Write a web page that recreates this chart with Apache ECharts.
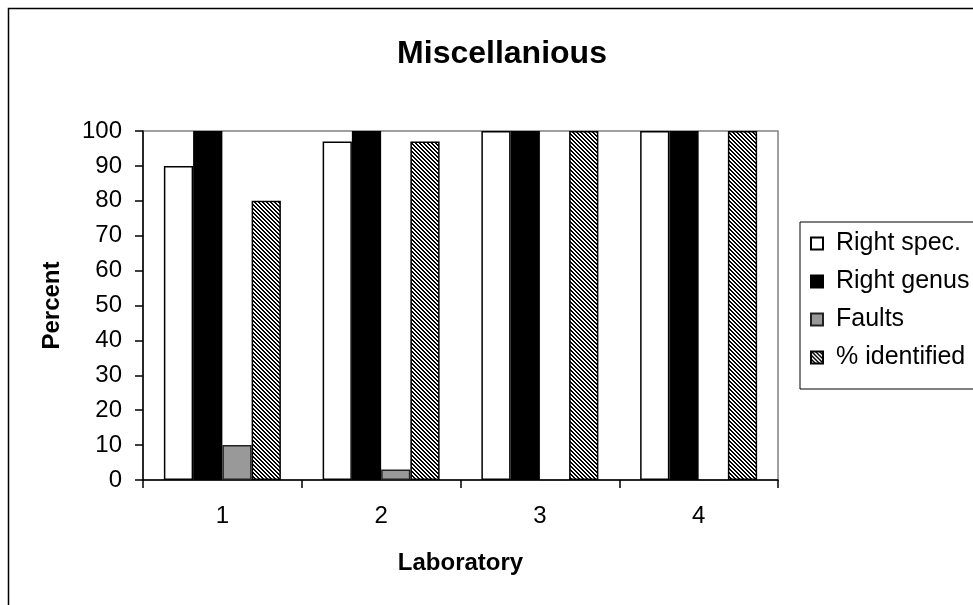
<!DOCTYPE html>
<html>
<head>
<meta charset="utf-8">
<script src="https://cdn.jsdelivr.net/npm/echarts@6/dist/echarts.min.js"></script>
<style>
html,body{margin:0;padding:0;background:#fff;}
#chart{width:973px;height:605px;}
</style>
</head>
<body>
<div id="chart"></div>
<script>
const categories = ['1', '2', '3', '4'];
const rightSpec = [90, 97, 100, 100];
const rightGenus = [100, 100, 100, 100];
const faults = [10, 3, 0, 0];
const identified = [80, 97, 100, 100];
const seriesNames = ['Right spec.', 'Right genus', 'Faults', '% identified'];

function hatch() {
  const c = document.createElement('canvas');
  c.width = 4; c.height = 4;
  const ctx = c.getContext('2d');
  const img = ctx.createImageData(4, 4);
  for (let y = 0; y < 4; y++) {
    for (let x = 0; x < 4; x++) {
      const i = (y * 4 + x) * 4;
      const dark = ((x - y + 8) % 4) < 2;
      const v = dark ? 0 : 255;
      img.data[i] = v; img.data[i+1] = v; img.data[i+2] = v; img.data[i+3] = 255;
    }
  }
  ctx.putImageData(img, 0, 0);
  return c;
}

const font = 'Arial, "Liberation Sans", sans-serif';
const chart = echarts.init(document.getElementById('chart'), null, {renderer: 'canvas'});
const barBase = {type: 'bar', barGap: '0%', barCategoryGap: '26.3%'};
chart.setOption({
  animation: false,
  backgroundColor: '#fff',
  textStyle: {fontFamily: font, color: '#000'},
  title: {
    text: 'Miscellanious', left: 497, top: 33, textAlign: 'center',
    textStyle: {fontFamily: font, fontSize: 32, fontWeight: 'bold', color: '#000'}
  },
  graphic: [{
    type: 'rect', shape: {x: 8.5, y: 8.5, width: 2000, height: 2000},
    style: {fill: 'none', stroke: '#000', lineWidth: 1.5}, silent: true
  }],
  legend: {
    orient: 'vertical', left: 800, top: 222,
    padding: [9, 200, 19, 10],
    itemWidth: 12, itemHeight: 12, itemGap: 13,
    borderColor: '#000', borderWidth: 1,
    textStyle: {fontFamily: font, fontSize: 25, color: '#000', padding: [0, 0, 0, 8]},
    data: seriesNames.map(n => ({name: n, icon: 'rect'}))
  },
  grid: {left: 143, top: 131, width: 635, height: 349, show: true, borderColor: '#808080', borderWidth: 1.5, containLabel: false},
  xAxis: {
    type: 'category', data: categories,
    name: 'Laboratory', nameLocation: 'middle', nameGap: 71,
    nameTextStyle: {fontFamily: font, fontSize: 24, fontWeight: 'bold', color: '#000'},
    axisLine: {lineStyle: {color: '#000', width: 1.5}},
    axisTick: {show: true, alignWithLabel: false, length: 8, lineStyle: {color: '#000', width: 1.5}},
    axisLabel: {fontFamily: font, fontSize: 24, color: '#000', margin: 24},
    splitLine: {show: false}
  },
  yAxis: {
    type: 'value', min: 0, max: 100, interval: 10,
    name: 'Percent', nameLocation: 'middle', nameGap: 79, nameRotate: 90,
    nameTextStyle: {fontFamily: font, fontSize: 24, fontWeight: 'bold', color: '#000'},
    axisLine: {show: true, lineStyle: {color: '#000', width: 1.5}},
    axisTick: {show: true, length: 8, lineStyle: {color: '#000', width: 1.5}},
    axisLabel: {fontFamily: font, fontSize: 24, color: '#000', margin: 21},
    splitLine: {show: false}
  },
  series: [
    Object.assign({}, barBase, {name: seriesNames[0], data: rightSpec,
      itemStyle: {color: '#fff', borderColor: '#000', borderWidth: 1.5}}),
    Object.assign({}, barBase, {name: seriesNames[1], data: rightGenus,
      itemStyle: {color: '#000', borderColor: '#000', borderWidth: 1.5}}),
    Object.assign({}, barBase, {name: seriesNames[2], data: faults,
      itemStyle: {color: '#999', borderColor: '#222', borderWidth: 1.5}}),
    Object.assign({}, barBase, {name: seriesNames[3], data: identified,
      itemStyle: {color: {image: hatch(), repeat: 'repeat'}, borderColor: '#000', borderWidth: 1.5}})
  ]
});
</script>
</body>
</html>
